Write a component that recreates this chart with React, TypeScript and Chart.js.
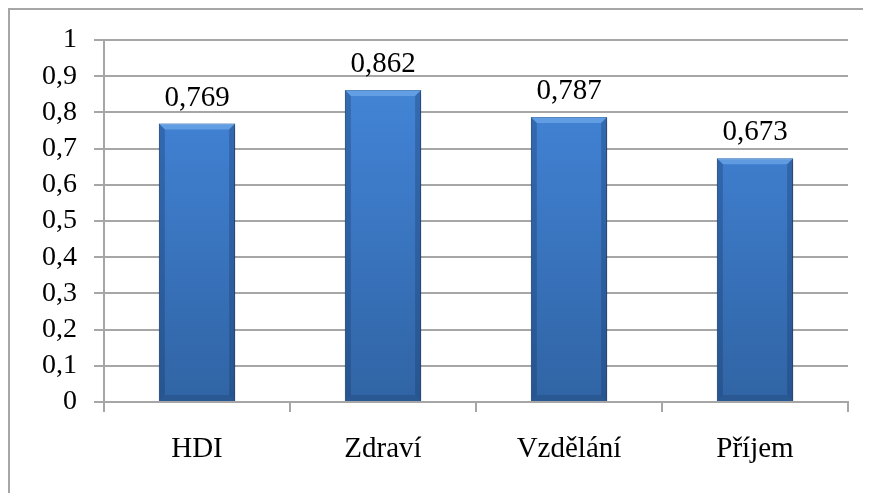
import React, { useEffect, useRef } from "react";
import { Chart, registerables } from "chart.js";

Chart.register(...registerables);

const categories = ["HDI", "Zdraví", "Vzdělání", "Příjem"];
const values = [0.769, 0.862, 0.787, 0.673];
const yMin = 0;
const yMax = 1;
const yStep = 0.1;

const fmt = (v: number, digits?: number) =>
  (digits !== undefined ? v.toFixed(digits) : String(Math.round(v * 1000) / 1000)).replace(".", ",");

const FONT = "'Liberation Serif', 'Times New Roman', serif";

export default function App() {
  const ref = useRef<HTMLCanvasElement | null>(null);
  useEffect(() => {
    if (!ref.current) return;
    const shadowPlugin = {
      id: "barShadow",
      beforeDatasetDraw(chart: any) {
        const ctx = chart.ctx;
        ctx.save();
        ctx.shadowColor = "rgba(0,0,0,0.35)";
        ctx.shadowBlur = 4;
        ctx.shadowOffsetX = 2;
        ctx.shadowOffsetY = 2;
      },
      afterDatasetDraw(chart: any) {
        chart.ctx.restore();
      },
    };
    const bevelPlugin = {
      id: "bevel",
      afterDatasetsDraw(chart: any) {
        const ctx = chart.ctx;
        const meta = chart.getDatasetMeta(0);
        ctx.save();
        meta.data.forEach((el: any) => {
          const w = el.width;
          const l = el.x - w / 2;
          const r = el.x + w / 2;
          const t = el.y;
          const b = el.base;
          const d = 6;
          ctx.fillStyle = "rgba(130,185,245,0.5)";
          ctx.beginPath();
          ctx.moveTo(l, t);
          ctx.lineTo(r, t);
          ctx.lineTo(r - d, t + d);
          ctx.lineTo(l + d, t + d);
          ctx.closePath();
          ctx.fill();
          ctx.fillStyle = "rgba(20,50,95,0.3)";
          ctx.beginPath();
          ctx.moveTo(l, t);
          ctx.lineTo(l + d, t + d);
          ctx.lineTo(l + d, b - d);
          ctx.lineTo(l, b);
          ctx.closePath();
          ctx.fill();
          ctx.beginPath();
          ctx.moveTo(r, t);
          ctx.lineTo(r - d, t + d);
          ctx.lineTo(r - d, b - d);
          ctx.lineTo(r, b);
          ctx.closePath();
          ctx.fill();
          ctx.fillStyle = "rgba(20,50,95,0.25)";
          ctx.beginPath();
          ctx.moveTo(l, b);
          ctx.lineTo(l + d, b - d);
          ctx.lineTo(r - d, b - d);
          ctx.lineTo(r, b);
          ctx.closePath();
          ctx.fill();
        });
        ctx.restore();
      },
    };
    const labelPlugin = {
      id: "valueLabels",
      afterDatasetsDraw(chart: any) {
        const ctx = chart.ctx;
        const meta = chart.getDatasetMeta(0);
        ctx.save();
        ctx.font = `29px ${FONT}`;
        ctx.fillStyle = "#000";
        ctx.textAlign = "center";
        ctx.textBaseline = "alphabetic";
        meta.data.forEach((el: any, i: number) => {
          ctx.fillText(fmt(values[i], 3), el.x, el.y - 18);
        });
        ctx.restore();
      },
    };
    const chart = new Chart(ref.current, {
      type: "bar",
      data: {
        labels: categories,
        datasets: [
          {
            data: values,
            backgroundColor: (c: any) => {
              const area = c.chart.chartArea;
              if (!area) return "#3A74BF";
              const g = c.chart.ctx.createLinearGradient(0, area.top, 0, area.bottom);
              g.addColorStop(0, "#4689D8");
              g.addColorStop(0.3, "#3F7ECE");
              g.addColorStop(1, "#3064A4");
              return g;
            },
            borderColor: "#2A5792",
            borderWidth: 1,
            barPercentage: 0.41,
            categoryPercentage: 1,
          },
        ],
      },
      options: {
        animation: false,
        responsive: false,
        maintainAspectRatio: false,
        layout: { padding: { left: 0, top: 30, right: 23, bottom: 0 } },
        plugins: { legend: { display: false }, tooltip: { enabled: false } },
        scales: {
          y: {
            min: yMin,
            max: yMax,
            ticks: {
              stepSize: yStep,
              autoSkip: false,
              padding: 17,
              color: "#000",
              font: { family: FONT, size: 28 },
              callback: (v: any) => fmt(Number(v)),
            },
            grid: { color: "#A6A6A6", lineWidth: 2, tickLength: 10 },
            border: { color: "#A6A6A6", width: 2 },
            afterFit: (s: any) => {
              s.width = 94;
              s.paddingTop = 0;
              s.paddingBottom = 0;
            },
          },
          x: {
            ticks: {
              padding: 20,
              autoSkip: false,
              color: "#000",
              font: { family: FONT, size: 29 },
            },
            grid: {
              offset: true,
              drawOnChartArea: false,
              color: "#A6A6A6",
              lineWidth: 2,
              tickLength: 10,
            },
            border: { color: "#A6A6A6", width: 2 },
            afterFit: (s: any) => {
              s.height = 91;
              s.paddingLeft = 0;
              s.paddingRight = 0;
            },
          },
        },
      },
      plugins: [shadowPlugin, bevelPlugin, labelPlugin],
    });
    return () => chart.destroy();
  }, []);
  return (
    <div
      style={{
        width: 863,
        height: 485,
        borderLeft: "2px solid #A6A6A6",
        borderTop: "2px solid #A6A6A6",
        boxSizing: "border-box",
        background: "#fff",
      }}
    >
      <canvas ref={ref} width={861} height={483} style={{ display: "block" }} />
    </div>
  );
}
